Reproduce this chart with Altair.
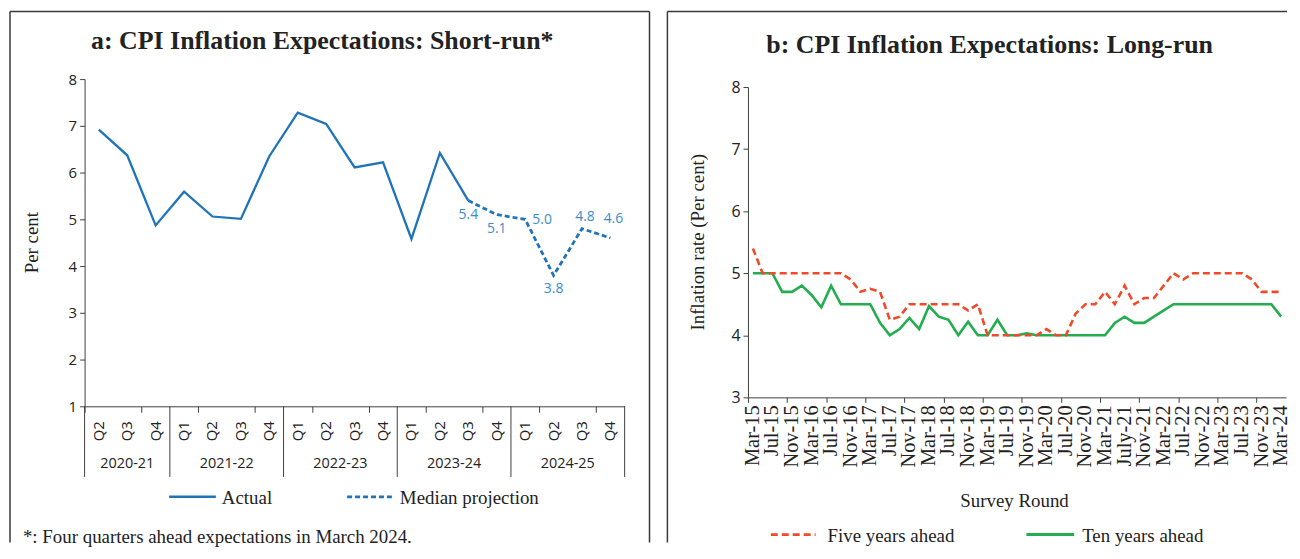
import altair as alt
import pandas as pd

# ---------------- Panel a: short-run expectations ----------------
quarters = ["Q2", "Q3", "Q4",
            "Q1", "Q2", "Q3", "Q4",
            "Q1", "Q2", "Q3", "Q4",
            "Q1", "Q2", "Q3", "Q4",
            "Q1", "Q2", "Q3", "Q4"]
fiscal_years = ["2020-21", "2021-22", "2022-23", "2023-24", "2024-25"]
quarters_per_year = [3, 4, 4, 4, 4]
actual = [6.92, 6.37, 4.87, 5.59, 5.06, 5.01, 6.35, 7.28, 7.04, 6.11, 6.22, 4.58, 6.42, 5.4]
projection = [5.4, 5.1, 5.0, 3.8, 4.8, 4.6]
projection_start = 13

# ---------------- Panel b: long-run expectations ----------------
survey_rounds = ["Mar-15", "May-15", "Jul-15", "Sep-15", "Nov-15", "Jan-16",
                 "Mar-16", "May-16", "Jul-16", "Sep-16", "Nov-16", "Jan-17",
                 "Mar-17", "May-17", "Jul-17", "Sep-17", "Nov-17", "Jan-18",
                 "Mar-18", "May-18", "Jul-18", "Sep-18", "Nov-18", "Jan-19",
                 "Mar-19", "May-19", "Jul-19", "Sep-19", "Nov-19", "Jan-20",
                 "Mar-20", "May-20", "Jul-20", "Sep-20", "Nov-20", "Jan-21",
                 "Mar-21", "May-21", "July-21", "Sep-21", "Nov-21", "Jan-22",
                 "Mar-22", "May-22", "Jul-22", "Sep-22", "Nov-22", "Jan-23",
                 "Mar-23", "May-23", "Jul-23", "Sep-23", "Nov-23", "Jan-24",
                 "Mar-24"]
five_years_ahead = [5.4, 5.0, 5.0, 5.0, 5.0, 5.0, 5.0, 5.0, 5.0, 5.0,
                    4.9, 4.7, 4.75, 4.7, 4.25, 4.3, 4.5, 4.5, 4.5, 4.5,
                    4.5, 4.5, 4.4, 4.5, 4.0, 4.0, 4.0, 4.0, 4.0, 4.0,
                    4.1, 4.0, 4.0, 4.35, 4.5, 4.5, 4.7, 4.5, 4.8, 4.5,
                    4.6, 4.6, 4.8, 5.0, 4.9, 5.0, 5.0, 5.0, 5.0, 5.0,
                    5.0, 4.9, 4.7, 4.7, 4.7]
ten_years_ahead = [5.0, 5.0, 5.0, 4.7, 4.7, 4.8, 4.65, 4.45, 4.8, 4.5,
                   4.5, 4.5, 4.5, 4.2, 4.0, 4.1, 4.28, 4.1, 4.47, 4.3,
                   4.25, 4.0, 4.22, 4.0, 4.0, 4.25, 4.0, 4.0, 4.03, 4.0,
                   4.0, 4.0, 4.0, 4.0, 4.0, 4.0, 4.0, 4.2, 4.3, 4.2,
                   4.2, 4.3, 4.4, 4.5, 4.5, 4.5, 4.5, 4.5, 4.5, 4.5,
                   4.5, 4.5, 4.5, 4.5, 4.3]

# ---------------- styling ----------------
SERIF = "Liberation Serif"
SANS = "Open Sans"
BLUE = "#1f74b9"
LBLUE = "#3a8ccc"
RED = "#f04a2a"
GREEN = "#22ad4e"
AX = "#404040"
BORDER = "#3a3a3a"
TXT = "#222222"

one = pd.DataFrame({"k": [0]})


def txt(s, x, y, size=19, font=SERIF, weight="normal", align="center", angle=None):
    kw = dict(text=s, font=font, fontSize=size, fontWeight=weight, align=align,
              baseline="middle", color=TXT)
    if angle is not None:
        kw["angle"] = angle
    return alt.Chart(one).mark_text(**kw).encode(x=alt.value(x), y=alt.value(y))


def rule(x, y, x2=None, y2=None, color=BORDER, width=1.5, dash=None):
    enc = dict(x=alt.value(x), y=alt.value(y))
    if x2 is not None:
        enc["x2"] = alt.value(x2)
    if y2 is not None:
        enc["y2"] = alt.value(y2)
    kw = dict(color=color, strokeWidth=width)
    if dash:
        kw["strokeDash"] = dash
    return alt.Chart(one).mark_rule(**kw).encode(**enc)


# ================= Panel a =================
WA, HA = 543, 329
nq = len(quarters)
dfa = pd.DataFrame({"idx": list(range(len(actual))), "value": actual})
dfp = pd.DataFrame({"idx": list(range(projection_start, projection_start + len(projection))),
                    "value": projection})
dfp["label"] = [f"{v:.1f}" for v in projection]

xa = alt.X("idx:Q",
           scale=alt.Scale(domain=[-0.5, nq - 0.5], nice=False, zero=False),
           axis=alt.Axis(values=[i - 0.5 for i in range(nq + 1)], labels=False, title=None,
                         tickSize=6, domainColor=AX, tickColor=AX, grid=False))
ya = alt.Y("value:Q",
           scale=alt.Scale(domain=[1, 8], nice=False, zero=False),
           axis=alt.Axis(values=list(range(1, 9)), format="d", title=None, tickSize=5,
                         labelFont=SANS, labelFontSize=15, labelPadding=3, labelColor=TXT,
                         grid=False, domainColor=AX, tickColor=AX))

line_actual = alt.Chart(dfa).mark_line(color=BLUE, strokeWidth=2.3).encode(x=xa, y=ya)
line_proj = alt.Chart(dfp).mark_line(color=BLUE, strokeWidth=2.8, strokeDash=[5, 3]).encode(
    x="idx:Q", y="value:Q")


def vlabels(rows, dx, dy):
    return alt.Chart(dfp.iloc[rows]).mark_text(
        font=SANS, fontSize=14, color=LBLUE, dx=dx, dy=dy, baseline="middle"
    ).encode(x="idx:Q", y="value:Q", text="label:N")


lab_below = vlabels([0, 1, 3], 0, 14)
lab_right = vlabels([2], 17, 1)
lab_above1 = vlabels([4], 3, -12)
lab_above2 = vlabels([5], 3, -19)

dq = pd.DataFrame({"idx": list(range(nq)), "q": quarters})
qlabels = alt.Chart(dq).mark_text(angle=270, align="right", baseline="middle", font=SANS,
                                  fontSize=15, color=TXT).encode(
    x="idx:Q", y=alt.value(344), text="q:N")

centers, bounds = [], [-0.5]
start = 0
for n in quarters_per_year:
    centers.append(start + (n - 1) / 2)
    start += n
    bounds.append(start - 0.5)
dyears = pd.DataFrame({"idx": centers, "fy": fiscal_years})
ylabels = alt.Chart(dyears).mark_text(font=SANS, fontSize=14.5, color=TXT, baseline="middle").encode(
    x="idx:Q", y=alt.value(387), text="fy:N")
dsep = pd.DataFrame({"idx": bounds})
seps = alt.Chart(dsep).mark_rule(color=AX, strokeWidth=1).encode(
    x="idx:Q", y=alt.value(HA), y2=alt.value(HA + 71))

panel_a = alt.layer(
    rule(-75, -68, y2=466), rule(-75, -68, x2=568), rule(568, -68, y2=466),
    txt("a: CPI Inflation Expectations: Short-run*", 239, -38, size=26, weight="bold"),
    txt("Per cent", -53, HA / 2, angle=270),
    line_actual, line_proj, lab_below, lab_right, lab_above1, lab_above2,
    qlabels, ylabels, seps,
    rule(85, 420, x2=132, color=BLUE, width=2.5),
    txt("Actual", 138, 421, align="left"),
    rule(264, 420, x2=311, color=BLUE, width=2.8, dash=[5, 3]),
    txt("Median projection", 317, 421, align="left"),
    txt("*: Four quarters ahead expectations in March 2024.", -62, 460, align="left"),
).properties(width=WA, height=HA)

# ================= Panel b =================
# plot origin shared with panel a; y range starts 8px lower
WB, HB, TOPB = 541, 320, 8
nr = len(survey_rounds)
dfb = pd.DataFrame({
    "idx": list(range(nr)) * 2,
    "value": five_years_ahead + ten_years_ahead,
    "series": ["Five years ahead"] * nr + ["Ten years ahead"] * nr,
})
xb = alt.X("idx:Q",
           scale=alt.Scale(domain=[-0.5, nr - 0.5], nice=False, zero=False),
           axis=alt.Axis(values=[i - 0.5 for i in range(nr + 1)], labels=False, title=None,
                         tickSize=5, domainColor=AX, tickColor=AX, grid=False))
yb = alt.Y("value:Q",
           scale=alt.Scale(domain=[3, 8], range=[HB, TOPB], nice=False, zero=False),
           axis=alt.Axis(values=list(range(3, 9)), format="d", title=None, tickSize=5,
                         labelFont=SANS, labelFontSize=16, labelPadding=3, labelColor=TXT,
                         grid=False, domainColor=AX, tickColor=AX))

line_ten = alt.Chart(dfb[dfb.series == "Ten years ahead"]).mark_line(
    color=GREEN, strokeWidth=2.6).encode(x=xb, y=yb)
line_five = alt.Chart(dfb[dfb.series == "Five years ahead"]).mark_line(
    color=RED, strokeWidth=2.6, strokeDash=[7, 4]).encode(x="idx:Q", y="value:Q")

dr = pd.DataFrame({"idx": list(range(0, nr, 2)), "lab": survey_rounds[0::2]})
rlabels = alt.Chart(dr).mark_text(angle=270, align="right", baseline="middle", font=SERIF,
                                  fontSize=20.5, color=TXT).encode(
    x="idx:Q", y=alt.value(HB + 8), text="lab:N")

panel_b = alt.layer(
    rule(-81, -68, y2=466), rule(-81, -68, x2=WB + 1),
    txt("b: CPI Inflation Expectations: Long-run", 243, -34, size=26, weight="bold"),
    txt("Inflation rate (Per cent)", -50, 164, angle=270),
    line_ten, line_five, rlabels,
    txt("Survey Round", 268, 424),
    rule(23, 458, x2=68, color=RED, width=2.6, dash=[7, 4]),
    txt("Five years ahead", 80, 459, align="left"),
    rule(280, 458, x2=328, color=GREEN, width=3),
    txt("Ten years ahead", 336, 459, align="left"),
).properties(width=WB, height=HB)

chart = alt.hconcat(panel_a, panel_b, spacing=16).properties(
    padding={"left": 1, "top": 1, "right": 0, "bottom": 0}
).configure_view(stroke=None).configure_axis(grid=False)

chart.save("out.html", embed_options={"renderer": "svg", "actions": False})
